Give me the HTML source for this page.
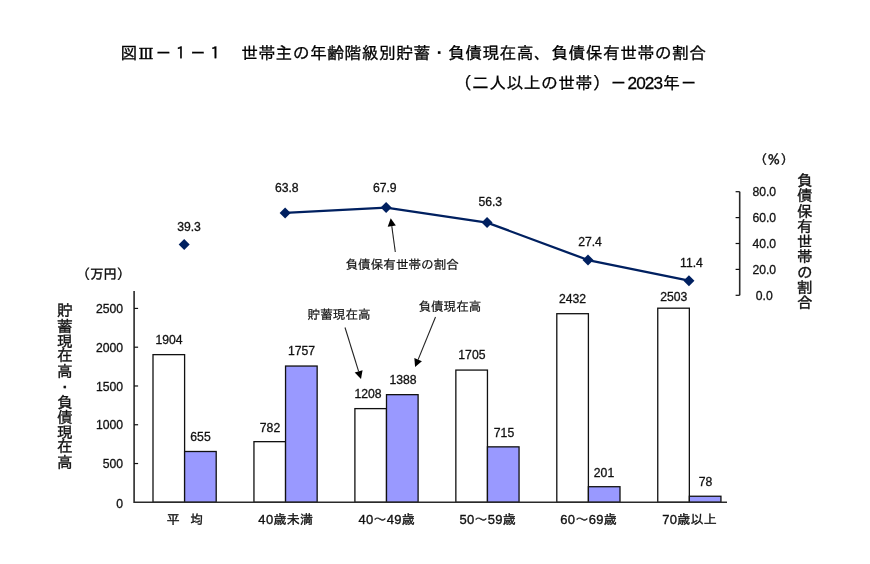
<!DOCTYPE html>
<html lang="ja">
<head>
<meta charset="utf-8">
<title>図Ⅲ－１－１　世帯主の年齢階級別貯蓄・負債現在高、負債保有世帯の割合</title>
<style>
html,body{margin:0;padding:0;background:#fff;}
body{width:870px;height:564px;overflow:hidden;}
svg{display:block;}
text{font-family:"Liberation Sans","IPAGothic","Noto Sans CJK JP",sans-serif;fill:#111;}
.title{font-size:16.8px;letter-spacing:0.45px;fill:#000;stroke:#000;stroke-width:0.3px;}
.rn{font-family:"DejaVu Serif","Liberation Serif",serif;font-size:15.5px;letter-spacing:0;}
.yr{font-size:17.2px;letter-spacing:-0.9px;}
.num{font-size:12.2px;text-anchor:middle;stroke:#111;stroke-width:0.3px;}
.cat{font-size:13px;letter-spacing:0.3px;text-anchor:middle;stroke:#111;stroke-width:0.35px;}
.ann{font-size:12.6px;stroke:#111;stroke-width:0.2px;}
.vt{font-size:15.7px;letter-spacing:-0.55px;writing-mode:vertical-rl;text-orientation:upright;stroke:#111;stroke-width:0.35px;}
.unit{font-size:13.3px;stroke:#111;stroke-width:0.3px;}
.ax{stroke:#2a2a2a;stroke-width:1.6;fill:none;}
.tk{stroke:#111;stroke-width:1.2;fill:none;}
.bar{stroke:#111;stroke-width:1.3;}
</style>
</head>
<body>
<svg width="870" height="564" viewBox="0 0 870 564">
<rect x="0" y="0" width="870" height="564" fill="#ffffff"/>
<text class="title" x="120.6" y="58.9">図<tspan class="rn" x="138.6">Ⅲ</tspan><tspan x="155.0">－１－１　世帯主の年齢階級別貯蓄・負債現在高、負債保有世帯の割合</tspan></text>
<text class="title" x="454.9" y="88.7">（二人以上の世帯）－<tspan class="yr" dx="0.3">2023</tspan><tspan dx="0.9">年－</tspan></text>
<rect class="bar" x="153.00" y="354.64" width="31.60" height="147.66" fill="#ffffff"/>
<rect class="bar" x="184.60" y="451.50" width="31.60" height="50.80" fill="#9999ff"/>
<rect class="bar" x="253.95" y="441.66" width="31.60" height="60.64" fill="#ffffff"/>
<rect class="bar" x="285.55" y="366.04" width="31.60" height="136.26" fill="#9999ff"/>
<rect class="bar" x="354.90" y="408.62" width="31.60" height="93.68" fill="#ffffff"/>
<rect class="bar" x="386.50" y="394.66" width="31.60" height="107.64" fill="#9999ff"/>
<rect class="bar" x="455.85" y="370.08" width="31.60" height="132.22" fill="#ffffff"/>
<rect class="bar" x="487.45" y="446.85" width="31.60" height="55.45" fill="#9999ff"/>
<rect class="bar" x="556.80" y="313.70" width="31.60" height="188.60" fill="#ffffff"/>
<rect class="bar" x="588.40" y="486.71" width="31.60" height="15.59" fill="#9999ff"/>
<rect class="bar" x="657.75" y="308.19" width="31.60" height="194.11" fill="#ffffff"/>
<rect class="bar" x="689.35" y="496.25" width="31.60" height="6.05" fill="#9999ff"/>
<path class="ax" d="M134.10 291 V502.30 H727"/>
<text class="num" style="text-anchor:end" x="123.0" y="508.10">0</text>
<path class="tk" d="M134.10 463.53 h4.0"/>
<text class="num" style="text-anchor:end" x="123.0" y="468.13">500</text>
<path class="tk" d="M134.10 424.75 h4.0"/>
<text class="num" style="text-anchor:end" x="123.0" y="429.35">1000</text>
<path class="tk" d="M134.10 385.98 h4.0"/>
<text class="num" style="text-anchor:end" x="123.0" y="390.58">1500</text>
<path class="tk" d="M134.10 347.20 h4.0"/>
<text class="num" style="text-anchor:end" x="123.0" y="351.80">2000</text>
<path class="tk" d="M134.10 308.43 h4.0"/>
<text class="num" style="text-anchor:end" x="123.0" y="313.03">2500</text>
<path class="ax" d="M739.7 191.7 V295.30"/>
<path class="tk" d="M735.6 295.30 H739.7"/>
<text class="num" x="764.3" y="299.80">0.0</text>
<path class="tk" d="M735.6 269.40 H739.7"/>
<text class="num" x="764.3" y="273.90">20.0</text>
<path class="tk" d="M735.6 243.50 H739.7"/>
<text class="num" x="764.3" y="248.00">40.0</text>
<path class="tk" d="M735.6 217.60 H739.7"/>
<text class="num" x="764.3" y="222.10">60.0</text>
<path class="tk" d="M735.6 191.70 H739.7"/>
<text class="num" x="764.3" y="196.20">80.0</text>
<polyline fill="none" stroke="#002060" stroke-width="2.3" stroke-linejoin="round" points="285.15,212.88 386.10,207.57 487.05,222.59 588.00,260.02 688.95,280.74"/>
<path fill="#002060" d="M184.20 239.11 l5.50 5.50 l-5.50 5.50 l-5.50 -5.50 z"/>
<path fill="#002060" d="M285.15 207.38 l5.50 5.50 l-5.50 5.50 l-5.50 -5.50 z"/>
<path fill="#002060" d="M386.10 202.07 l5.50 5.50 l-5.50 5.50 l-5.50 -5.50 z"/>
<path fill="#002060" d="M487.05 217.09 l5.50 5.50 l-5.50 5.50 l-5.50 -5.50 z"/>
<path fill="#002060" d="M588.00 254.52 l5.50 5.50 l-5.50 5.50 l-5.50 -5.50 z"/>
<path fill="#002060" d="M688.95 275.24 l5.50 5.50 l-5.50 5.50 l-5.50 -5.50 z"/>
<text class="num" x="169.00" y="344.00">1904</text>
<text class="num" x="200.50" y="440.75">655</text>
<text class="num" x="189.00" y="230.50">39.3</text>
<text class="num" x="270.00" y="431.50">782</text>
<text class="num" x="301.60" y="355.25">1757</text>
<text class="num" x="286.75" y="191.80">63.8</text>
<text class="num" x="368.00" y="397.75">1208</text>
<text class="num" x="403.00" y="383.50">1388</text>
<text class="num" x="384.75" y="191.80">67.9</text>
<text class="num" x="471.90" y="359.00">1705</text>
<text class="num" x="504.00" y="436.50">715</text>
<text class="num" x="490.25" y="206.00">56.3</text>
<text class="num" x="572.50" y="302.75">2432</text>
<text class="num" x="604.00" y="476.50">201</text>
<text class="num" x="590.00" y="246.00">27.4</text>
<text class="num" x="673.75" y="300.70">2503</text>
<text class="num" x="705.60" y="485.75">78</text>
<text class="num" x="691.50" y="266.50">11.4</text>
<text class="cat" style="font-size:12.8px;word-spacing:6.6px" x="185.00" y="523.60">平 均</text>
<text class="cat" x="285.85" y="523.90">40歳未満</text>
<text class="cat" x="386.80" y="523.90">40～49歳</text>
<text class="cat" x="487.75" y="523.90">50～59歳</text>
<text class="cat" x="588.70" y="523.90">60～69歳</text>
<text class="cat" x="689.65" y="523.90">70歳以上</text>
<text class="unit" style="font-size:13.7px;letter-spacing:-0.3px;stroke-width:0.4px" x="76.6" y="279.1">（万円）</text>
<text class="unit" style="font-size:12.6px;letter-spacing:0.6px;stroke-width:0.45px" x="754.4" y="163.5">（％）</text>
<text class="vt" x="64.3" y="302.1">貯蓄現在高・負債現在高</text>
<text class="vt" x="804.3" y="172.4" style="font-size:15.5px;letter-spacing:-0.3px">負債保有世帯の割合</text>
<text class="ann" x="345.5" y="269">負債保有世帯の割合</text>
<path d="M395.30 252.00 L391.78 226.18" stroke="#222" stroke-width="1.1" fill="none"/><path d="M390.70 218.25 L395.84 225.62 L387.72 226.73 z" fill="#000"/>
<text class="ann" x="307.6" y="318.8">貯蓄現在高</text>
<path d="M345.00 327.50 L358.63 371.36" stroke="#222" stroke-width="1.1" fill="none"/><path d="M361.00 379.00 L354.71 372.58 L362.54 370.14 z" fill="#000"/>
<text class="ann" x="418.4" y="311.2">負債現在高</text>
<path d="M435.50 317.00 L418.12 359.59" stroke="#222" stroke-width="1.1" fill="none"/><path d="M415.10 367.00 L414.33 358.04 L421.92 361.14 z" fill="#000"/>
</svg>
</body>
</html>
